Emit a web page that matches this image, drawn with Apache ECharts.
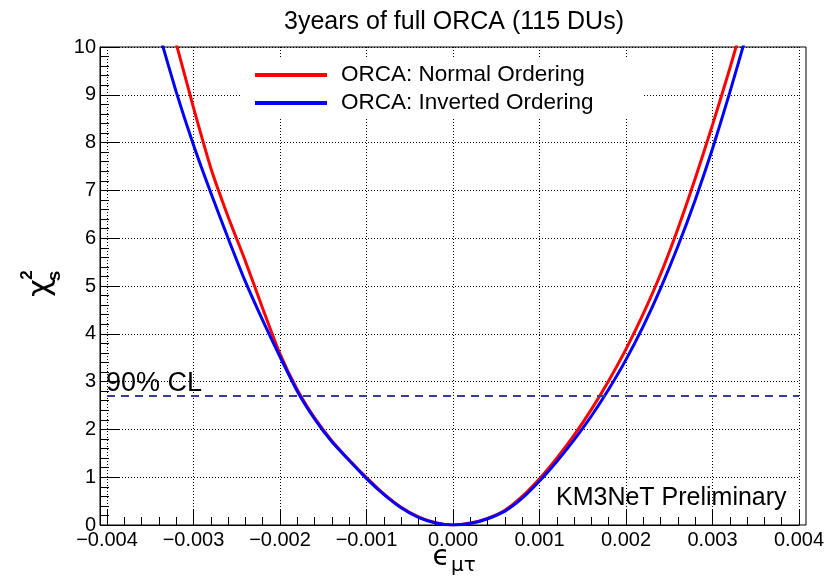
<!DOCTYPE html>
<html><head><meta charset="utf-8">
<script src="https://cdn.jsdelivr.net/npm/echarts@6/dist/echarts.min.js"></script>
<style>html,body{margin:0;padding:0;background:#fff}#c{width:833px;height:576px}</style>
</head><body><div id="c"></div>
<script>
// epsilon_mu_tau values
const xs = [-0.0034,-0.0032,-0.0030,-0.0028,-0.0026,-0.0024,-0.0022,-0.0020,-0.0018,-0.0016,-0.0014,-0.0012,-0.0010,-0.0008,-0.0006,-0.0004,-0.0002,0.0,
            0.0002,0.0004,0.0006,0.0008,0.0010,0.0012,0.0014,0.0016,0.0018,0.0020,0.0022,0.0024,0.0026,0.0028,0.0030,0.0032,0.0034];
// chi2 for Normal Ordering (red)
const normalOrdering = [11.3,10.07,8.73,7.47,6.45,5.52,4.53,3.58,2.83,2.24,1.76,1.36,0.99,0.65,0.37,0.17,0.05,0.0,
            0.04,0.14,0.31,0.60,0.97,1.40,1.88,2.42,3.02,3.68,4.42,5.25,6.20,7.25,8.37,9.55,10.8];
// chi2 for Inverted Ordering (blue)
const invertedOrdering = [10.3,9.06,7.95,6.95,6.00,5.09,4.28,3.52,2.80,2.22,1.74,1.35,0.97,0.64,0.36,0.16,0.04,0.0,
            0.03,0.13,0.29,0.56,0.92,1.33,1.78,2.28,2.84,3.46,4.16,4.95,5.83,6.80,7.87,9.05,10.3];
const seriesNames = ['ORCA: Normal Ordering','ORCA: Inverted Ordering'];
const clLevel = 2.71;

const chart = echarts.init(document.getElementById('c'), null, {renderer:'canvas'});
const FONT = 'Liberation Sans';
const black = '#000';
function fmtX(v){
  if (Math.abs(v) < 1e-12) return '0.000';
  return (v < 0 ? '\u2212' : '') + Math.abs(v).toFixed(3);
}
const option = {
  animation: false,
  backgroundColor: '#fff',
  grid: [
    {left:107, right:34, top:47, bottom:51},
    {left:100, right:27, top:47, bottom:51, show:true, borderColor:black, borderWidth:1, backgroundColor:'transparent'}
  ],
  legend: {
    orient:'vertical', left:240, top:58,
    padding:[5,50,3,15], itemGap:4,
    backgroundColor:'#fff',
    icon:'rect', itemWidth:72, itemHeight:4,
    textStyle:{fontFamily:FONT, fontSize:22.5, color:black, lineHeight:24, padding:[0,0,0,9]},
    data: seriesNames
  },
  xAxis: [
    {gridIndex:0, type:'value', min:-0.004, max:0.004, interval:0.001,
     axisLine:{show:true, onZero:false, lineStyle:{color:black, width:1}},
     axisTick:{show:true, inside:true, length:15, lineStyle:{color:black}},
     minorTick:{show:true, splitNumber:5, length:8, lineStyle:{color:black}},
     splitLine:{show:true, lineStyle:{color:black, type:[1,2], width:1}},
     axisLabel:{fontFamily:FONT, fontSize:20, color:black, margin:5, formatter:fmtX}},
    {gridIndex:1, type:'value', show:false, min:0, max:1}
  ],
  yAxis: [
    {gridIndex:0, type:'value', min:0, max:10, interval:1, offset:7,
     axisLine:{show:true, onZero:false, lineStyle:{color:black, width:1}},
     axisTick:{show:true, inside:true, length:19, lineStyle:{color:black}},
     minorTick:{show:true, splitNumber:5, length:9, lineStyle:{color:black}},
     splitLine:{show:true, lineStyle:{color:black, type:[1,2], width:1}},
     axisLabel:{fontFamily:FONT, fontSize:20, color:black, margin:4}},
    {gridIndex:1, type:'value', show:false, min:0, max:1}
  ],
  series: [
    {name:seriesNames[0], type:'line', xAxisIndex:0, yAxisIndex:0,
     data: xs.map((x,i)=>[x, normalOrdering[i]]), symbol:'none', smooth:0.2,
     lineStyle:{color:'#ff0000', width:3}, itemStyle:{color:'#ff0000'}, z:3,
     markLine:{silent:true, symbol:['none','none'], label:{show:false},
       lineStyle:{color:'#3b3b8f', type:[8,6], width:2},
       data:[[{coord:[-0.004, clLevel]},{coord:[0.004, clLevel]}]]}},
    {name:seriesNames[1], type:'line', xAxisIndex:0, yAxisIndex:0,
     data: xs.map((x,i)=>[x, invertedOrdering[i]]), symbol:'none', smooth:0.2,
     lineStyle:{color:'#0000ff', width:3}, itemStyle:{color:'#0000ff'}, z:4}
  ],
  graphic: [
    {type:'text', x:454, y:22, style:{text:'3years of full ORCA (115 DUs)', font:'25px "Liberation Sans"', fill:black, align:'center', verticalAlign:'middle', textAlign:'center', textVerticalAlign:'middle'}},
    {type:'text', x:106, y:384, z:10, style:{text:'90% CL', font:'27px "Liberation Sans"', fill:black, align:'left', verticalAlign:'middle', textAlign:'left', textVerticalAlign:'middle'}},
    {type:'text', x:556, y:498, z:10, style:{text:'KM3NeT Preliminary', font:'25px "Liberation Sans"', fill:black, align:'left', verticalAlign:'middle', textAlign:'left', textVerticalAlign:'middle'}},
    {type:'group', x:41, y:288, rotation:Math.PI/2, children:[
      {type:'text', x:0, y:0, style:{text:'\u03c7', font:'31px "DejaVu Sans"', fill:black, align:'center', verticalAlign:'middle', textAlign:'center', textVerticalAlign:'middle'}},
      {type:'text', x:13, y:-14, style:{text:'2', font:'bold 17px "Liberation Sans"', fill:black, align:'center', verticalAlign:'middle', textAlign:'center', textVerticalAlign:'middle'}},
      {type:'text', x:12, y:14, style:{text:'s', font:'bold 19px "Liberation Sans"', fill:black, align:'center', verticalAlign:'middle', textAlign:'center', textVerticalAlign:'middle'}}
    ]},
    {type:'text', x:441, y:558, style:{text:'\u03f5', font:'28px "DejaVu Sans"', fill:black, align:'center', verticalAlign:'middle', textAlign:'center', textVerticalAlign:'middle'}},
    {type:'text', x:451, y:566, style:{text:'\u03bc\u03c4', font:'20px "DejaVu Sans"', fill:black, align:'left', verticalAlign:'middle', textAlign:'left', textVerticalAlign:'middle'}}
  ]
};
chart.setOption(option);
</script></body></html>
